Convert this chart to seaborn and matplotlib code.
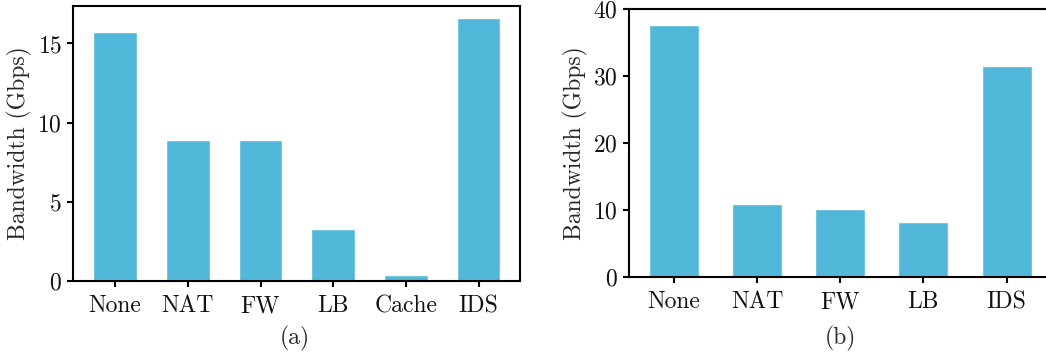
import matplotlib
matplotlib.use("Agg")
import matplotlib.pyplot as plt
import seaborn as sns
import pandas as pd

# Bandwidth per network function, two setups
cats_a = ["None", "NAT", "FW", "LB", "Cache", "IDS"]
bw_a = [15.7, 8.92, 8.92, 3.29, 0.38, 16.58]

cats_b = ["None", "NAT", "FW", "LB", "IDS"]
bw_b = [37.6, 10.9, 10.15, 8.2, 31.6]

yticks_a = [0, 5, 10, 15]
yticks_b = [0, 10, 20, 30, 40]

sns.set_theme(style="ticks")
plt.rcParams["font.family"] = ["cmr10", "DejaVu Serif"]
plt.rcParams["mathtext.fontset"] = "cm"
plt.rcParams["axes.formatter.use_mathtext"] = True
plt.rcParams["axes.unicode_minus"] = False

BAR = "#52b8d9"
FS = 17
W, H = 1046, 356
fig = plt.figure(figsize=(W / 100, H / 100), dpi=100)


def px_axes(left, top, right, bottom):
    return fig.add_axes([left / W, 1 - bottom / H, (right - left) / W, (bottom - top) / H])


def draw(ax, cats, vals, yticks, ylim, xlim):
    df = pd.DataFrame({"cat": cats, "bw": vals})
    sns.barplot(data=df, x="cat", y="bw", color=BAR, width=0.6,
                saturation=1, ax=ax)
    ax.set_ylim(*ylim)
    ax.set_xlim(*xlim)
    ax.set_yticks(yticks)
    ax.set_xlabel("")
    ax.set_ylabel("Bandwidth (Gbps)", fontsize=FS, labelpad=4)
    for s in ax.spines.values():
        s.set_linewidth(1.5)
        s.set_color("black")
    ax.tick_params(axis="both", length=4, width=1.5, labelsize=FS,
                   color="black", labelcolor="#111111")
    ax.tick_params(axis="x", pad=6)
    ax.tick_params(axis="y", pad=4)


ax_a = px_axes(73, 5.5, 520, 281)
draw(ax_a, cats_a, bw_a, yticks_a, (0, 17.4), (-0.58, 5.57))

ax_b = px_axes(629, 9.3, 1049, 277)
draw(ax_b, cats_b, bw_b, yticks_b, (0, 40), (-0.54, 4.51))

fig.text(295 / W, 1 - 338 / H, "(a)", ha="center", va="center", fontsize=FS)
fig.text(840 / W, 1 - 338 / H, "(b)", ha="center", va="center", fontsize=FS)

fig.savefig("out.png", dpi=100)
